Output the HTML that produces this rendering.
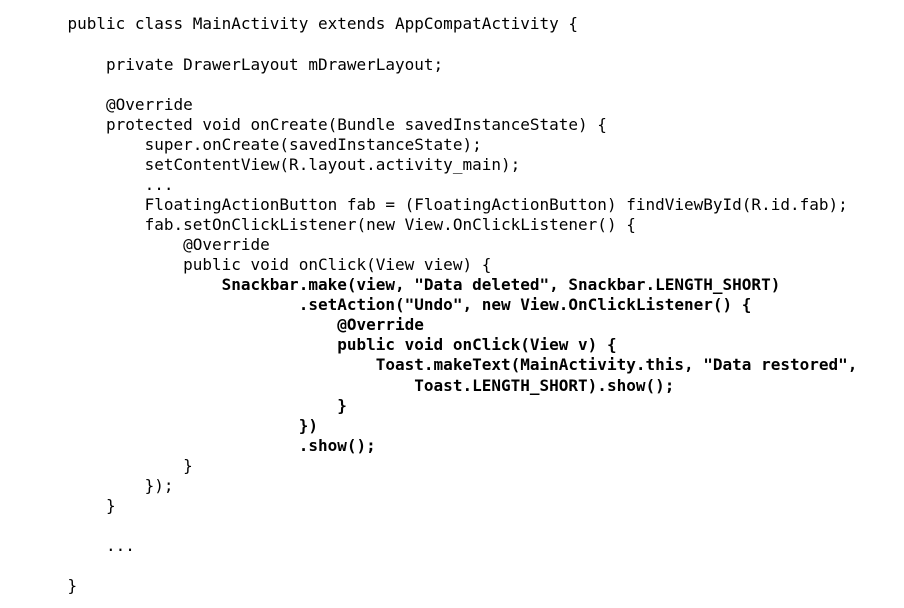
<!DOCTYPE html>
<html>
<head>
<meta charset="utf-8">
<style>
  html, body { margin: 0; padding: 0; background: #ffffff; }
  body { width: 904px; height: 608px; overflow: hidden; position: relative; }
  pre {
    position: absolute;
    left: 67.5px;
    top: 14.4px;
    margin: 0;
    font-family: "DejaVu Sans Mono", "Liberation Mono", monospace;
    font-size: 16px;
    line-height: 20.07px;
    color: #000;
    white-space: pre;
  }
  b { font-weight: bold; }
</style>
</head>
<body>
<pre>public class MainActivity extends AppCompatActivity {

    private DrawerLayout mDrawerLayout;

    @Override
    protected void onCreate(Bundle savedInstanceState) {
        super.onCreate(savedInstanceState);
        setContentView(R.layout.activity_main);
        ...
        FloatingActionButton fab = (FloatingActionButton) findViewById(R.id.fab);
        fab.setOnClickListener(new View.OnClickListener() {
            @Override
            public void onClick(View view) {
                <b>Snackbar.make(view, "Data deleted", Snackbar.LENGTH_SHORT)</b>
                        <b>.setAction("Undo", new View.OnClickListener() {</b>
                            <b>@Override</b>
                            <b>public void onClick(View v) {</b>
                                <b>Toast.makeText(MainActivity.this, "Data restored",</b>
                                    <b>Toast.LENGTH_SHORT).show();</b>
                            <b>}</b>
                        <b>})</b>
                        <b>.show();</b>
            }
        });
    }

    ...

}</pre>
</body>
</html>
